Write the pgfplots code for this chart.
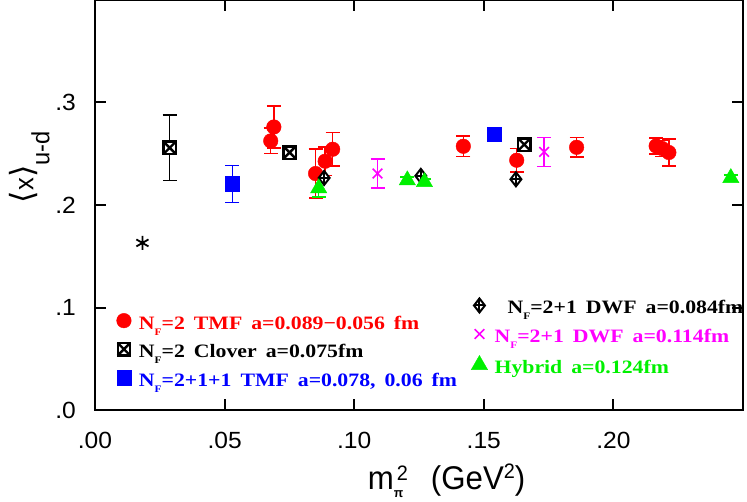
\documentclass[border=0pt]{standalone}
\usepackage{fontspec}
\usepackage{pgfplots}
\pgfplotsset{compat=1.18}
\setmainfont{Liberation Serif}
\newfontfamily\legfont[FakeStretch=1.15]{Liberation Serif}
\newfontfamily\tickfont[FakeStretch=1.05]{Liberation Sans}
\newfontfamily\labfont[FakeStretch=0.95]{Liberation Sans}
\newfontfamily\dvs{DejaVu Sans}
\definecolor{mygreen}{RGB}{0,240,0}
\definecolor{mymag}{RGB}{255,0,255}

\pgfdeclareplotmark{boxx}{%
  \pgfpathrectangle{\pgfqpoint{-\pgfplotmarksize}{-\pgfplotmarksize}}{\pgfqpoint{2\pgfplotmarksize}{2\pgfplotmarksize}}%
  \pgfusepathqfillstroke
  \pgfpathmoveto{\pgfqpoint{-\pgfplotmarksize}{-\pgfplotmarksize}}%
  \pgfpathlineto{\pgfqpoint{\pgfplotmarksize}{\pgfplotmarksize}}%
  \pgfpathmoveto{\pgfqpoint{-\pgfplotmarksize}{\pgfplotmarksize}}%
  \pgfpathlineto{\pgfqpoint{\pgfplotmarksize}{-\pgfplotmarksize}}%
  \pgfusepathqstroke}
\pgfdeclareplotmark{diamplus}{%
  \pgfpathmoveto{\pgfqpoint{0pt}{\pgfplotmarksize}}%
  \pgfpathlineto{\pgfqpoint{.78\pgfplotmarksize}{0pt}}%
  \pgfpathlineto{\pgfqpoint{0pt}{-\pgfplotmarksize}}%
  \pgfpathlineto{\pgfqpoint{-.78\pgfplotmarksize}{0pt}}%
  \pgfpathclose
  \pgfusepathqfillstroke
  \pgfpathmoveto{\pgfqpoint{0pt}{\pgfplotmarksize}}%
  \pgfpathlineto{\pgfqpoint{0pt}{-\pgfplotmarksize}}%
  \pgfpathmoveto{\pgfqpoint{-.78\pgfplotmarksize}{0pt}}%
  \pgfpathlineto{\pgfqpoint{.78\pgfplotmarksize}{0pt}}%
  \pgfusepathqstroke}

\pgfplotsset{
  legmark/.style={legend image code/.code={%
      \draw[##1] plot[only marks] coordinates {(0bp,4bp)};
      \path[draw=none, fill=none] (-8bp,-3bp) rectangle (8bp,11bp);}},
  ebar/.style={error bars/.cd, y dir=both, y explicit,
      error bar style={line width=1.5bp},
      error mark options={rotate=90, mark size=7bp, line width=1.5bp}},
}
\newcommand\ws{\hspace{9bp}}
\newcommand\NF{N\raisebox{-6bp}{\fontsize{10}{10}\selectfont F}}

\begin{document}
\begin{tikzpicture}
\begin{axis}[
  at={(0bp,0bp)}, anchor=south west,
  scale only axis, width=648bp, height=410bp,
  xmin=0, xmax=0.25, ymin=0, ymax=0.4,
  axis line style={line width=2bp},
  every tick/.style={line width=2bp, black},
  major tick length=11bp,
  tick align=inside,
  xtick={0,0.05,0.1,0.15,0.2,0.25}, xticklabels={.00,.05,.10,.15,.20,},
  ytick={0,0.1,0.2,0.3,0.4}, yticklabels={.0,.1,.2,.3,},
  tick label style={font=\tickfont\fontsize{23.5}{23.5}\selectfont, inner sep=0pt},
  xticklabel style={yshift=-22bp},
  yticklabel style={xshift=-19bp},
  xlabel={\labfont\fontsize{33}{33}\selectfont m\rlap{\raisebox{-8bp}{\fontsize{13}{13}\selectfont\bfseries π}}\hspace{3bp}\raisebox{9bp}{\fontsize{21}{21}\selectfont 2}\hspace{23bp}(GeV\raisebox{11bp}{\fontsize{21}{21}\selectfont 2})},
  xlabel style={at={(axis description cs:0.4208,-0.194)}, anchor=base west, inner sep=0pt},
  ylabel={{\dvs\fontsize{32}{32}\selectfont ⟨}{\labfont\fontsize{27}{27}\selectfont x}{\dvs\fontsize{32}{32}\selectfont ⟩}\raisebox{-16bp}{\labfont\fontsize{25}{25}\selectfont u-d}},
  ylabel style={at={(axis description cs:-0.1012,0.592)}, anchor=center, rotate=0},
  clip=false,
  legend style={at={(axis cs:0.008,0.0945)}, anchor=north west, draw=none, fill=none,
    inner sep=0pt, font=\legfont\bfseries\fontsize{19}{19}\selectfont,
    row sep=8bp, column sep=6bp,
    nodes={inner sep=1bp, text height=13bp, text depth=4bp}},
  legend cell align=left,
]
% N_F=2 TMF
\addplot[forget plot, only marks, mark=*, red, mark size=7.3bp, ebar]
  table[row sep=\\, y error=e] {x y e\\
  0.0678 0.2625 0.0125\\
  0.0690 0.2761 0.0205\\
  0.0851 0.2307 0.0240\\
  0.0888 0.2427 0.0140\\
  0.0917 0.2544 0.0163\\
  0.1421 0.2573 0.0100\\
  0.1627 0.2437 0.0115\\
  0.1858 0.2563 0.0095\\
  0.2165 0.2576 0.0080\\
  0.2188 0.2551 0.0080\\
  0.2214 0.2512 0.0133\\};
% N_F=2 Clover
\addplot[forget plot, only marks, mark=boxx, black, mark size=6.2bp, mark options={fill=white, line width=2.4bp}, ebar]
  table[row sep=\\, y error=e] {x y e\\
  0.0288 0.2558 0.0320\\
  0.0751 0.2512 0.0040\\
  0.1656 0.2590 0.0040\\};
% N_F=2+1+1 TMF
\addplot[forget plot, only marks, mark=square*, blue, mark size=7.2bp, mark options={line width=0.5bp}, ebar]
  table[row sep=\\, y error=e] {x y e\\
  0.0530 0.2206 0.0180\\
  0.1540 0.2693 0.0040\\};
% physical point
\addplot[forget plot, only marks, mark=asterisk, black, mark size=7bp, mark options={line width=1.8bp}]
  coordinates {(0.0183,0.163)};
% N_F=2+1 DWF 0.084
\addplot[forget plot, only marks, mark=diamplus, black, mark size=7bp, mark options={fill=white, line width=2bp}]
  coordinates {(0.0884,0.2264) (0.1257,0.2284) (0.1624,0.2251)};
% N_F=2+1 DWF 0.114
\addplot[forget plot, only marks, mark=x, mymag, mark size=6.8bp, mark options={line width=1.6bp}, ebar]
  table[row sep=\\, y error=e] {x y e\\
  0.1090 0.2307 0.0140\\
  0.1733 0.2518 0.0140\\};
% Hybrid
\addplot[forget plot, only marks, mark=triangle*, mygreen, mark size=9.4bp, ebar]
  table[row sep=\\, y error=e] {x y e\\
  0.0863 0.2164 0.0085\\
  0.1205 0.2242 0.0030\\
  0.1271 0.2225 0.0030\\
  0.2453 0.2264 0.0030\\};

\addlegendimage{mark=*, red, mark size=7.3bp, legmark}
\addlegendentry{\textcolor{red}{\NF=2\ws TMF\ws a=0.089−0.056\ws fm}}
\addlegendimage{mark=boxx, black, mark size=6.2bp, mark options={fill=white, line width=2.4bp}, legmark}
\addlegendentry{\NF=2\ws Clover\ws a=0.075fm}
\addlegendimage{mark=square*, blue, mark size=7.2bp, legmark}
\addlegendentry{\textcolor{blue}{\NF=2+1+1\ws TMF\ws a=0.078,\ws 0.06\ws fm}}
\end{axis}
\begin{axis}[
  at={(0bp,0bp)}, anchor=south west,
  scale only axis, width=648bp, height=410bp,
  xmin=0, xmax=0.25, ymin=0, ymax=0.4,
  hide axis, clip=false,
  legend style={at={(axis cs:0.1451,0.109)}, anchor=north west, draw=none, fill=none,
    inner sep=0pt, font=\legfont\bfseries\fontsize{19}{19}\selectfont,
    row sep=8bp, column sep=6bp,
    nodes={inner sep=1bp, text height=13bp, text depth=4bp}},
  legend cell align=left,
]
\addlegendimage{mark=diamplus, black, mark size=7bp, mark options={fill=white, line width=2bp}, legmark}
\addlegendentry{\hspace{13bp}\NF=2+1\ws DWF\ws a=0.084fm}
\addlegendimage{mark=x, mymag, mark size=6.8bp, mark options={line width=1.6bp}, legmark}
\addlegendentry{\textcolor{mymag}{\NF=2+1\ws DWF\ws a=0.114fm}}
\addlegendimage{mark=triangle*, mygreen, mark size=9.4bp, legmark}
\addlegendentry{\textcolor{mygreen}{Hybrid\ws a=0.124fm}}
\end{axis}
\pgfresetboundingbox
\path[use as bounding box] (-95bp,-92bp) rectangle (652bp,410bp);
\end{tikzpicture}
\end{document}
